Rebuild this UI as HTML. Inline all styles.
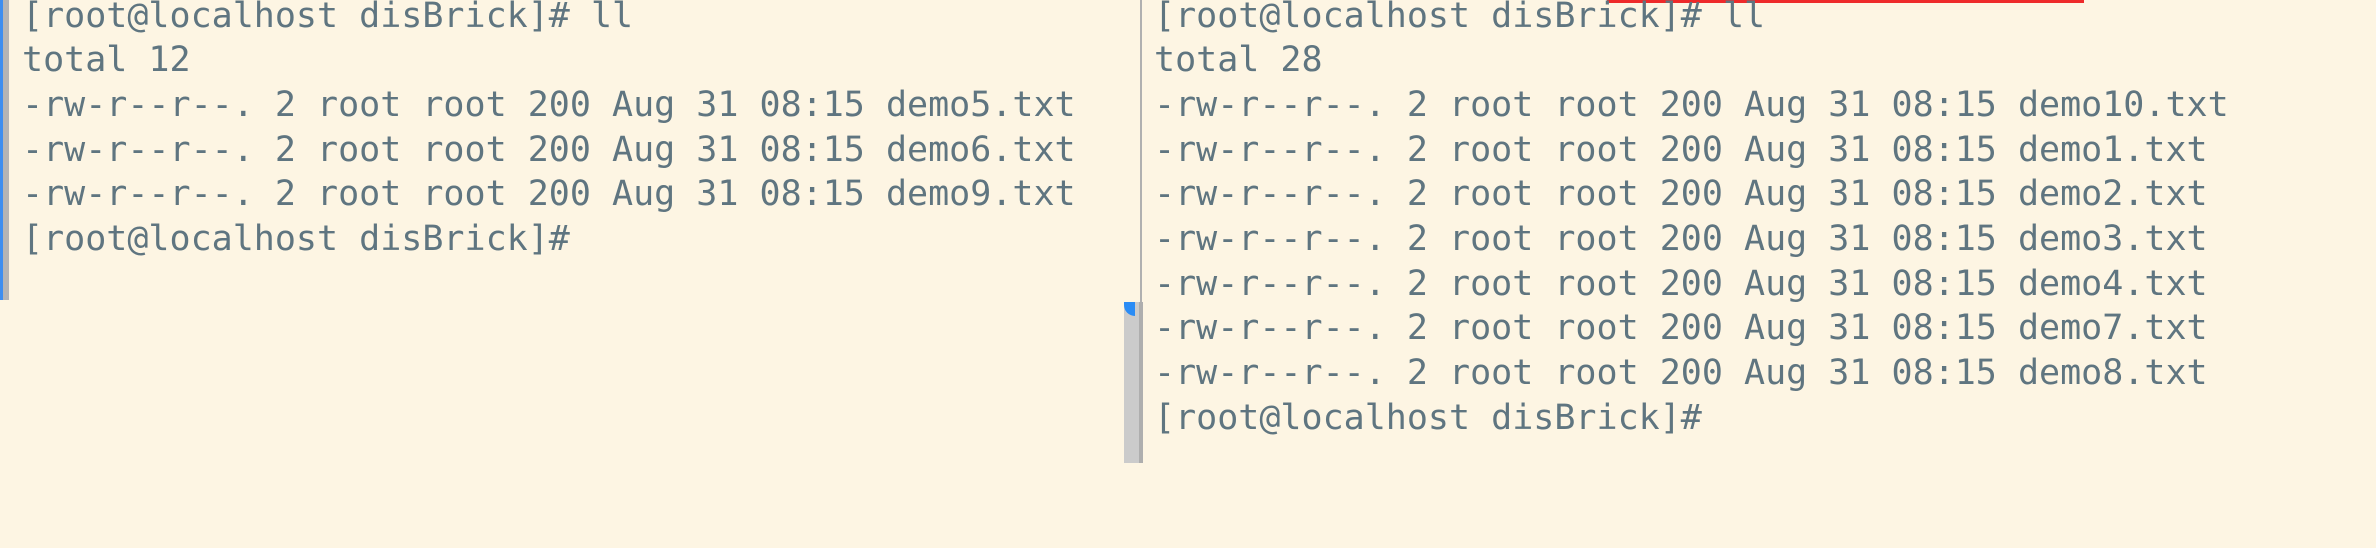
<!DOCTYPE html>
<html><head><meta charset="utf-8"><style>
html,body{margin:0;padding:0}
body{width:2376px;height:548px;background:#fdf5e3;position:relative;overflow:hidden}
.t{position:absolute;font-family:"DejaVu Sans Mono","Liberation Mono",monospace;font-size:35px;line-height:44.7px;color:#5f7580;white-space:pre;margin:0}
</style></head><body>
<div style="position:absolute;left:0;top:0;width:3px;height:300px;background:#3d8ef0"></div>
<div style="position:absolute;left:3px;top:0;width:6px;height:300px;background:#b4b4b4"></div>
<div style="position:absolute;left:1140px;top:0;width:2px;height:302px;background:#b0b0b0"></div>
<div style="position:absolute;left:1124px;top:302px;width:15px;height:161px;background:#cbcbcb"></div>
<div style="position:absolute;left:1139px;top:302px;width:4px;height:161px;background:#aeaeae"></div>
<div style="position:absolute;left:1124px;top:302px;width:11px;height:14px;background:#2a8cf5;border-bottom-left-radius:11px"></div>
<div style="position:absolute;left:1607px;top:0;width:477px;height:3px;background:#ee2a2a"></div>
<pre class="t" style="left:22px;top:-6.5px">[root@localhost disBrick]# ll
total 12
-rw-r--r--. 2 root root 200 Aug 31 08:15 demo5.txt
-rw-r--r--. 2 root root 200 Aug 31 08:15 demo6.txt
-rw-r--r--. 2 root root 200 Aug 31 08:15 demo9.txt
[root@localhost disBrick]#</pre>
<pre class="t" style="left:1154px;top:-6.5px">[root@localhost disBrick]# ll
total 28
-rw-r--r--. 2 root root 200 Aug 31 08:15 demo10.txt
-rw-r--r--. 2 root root 200 Aug 31 08:15 demo1.txt
-rw-r--r--. 2 root root 200 Aug 31 08:15 demo2.txt
-rw-r--r--. 2 root root 200 Aug 31 08:15 demo3.txt
-rw-r--r--. 2 root root 200 Aug 31 08:15 demo4.txt
-rw-r--r--. 2 root root 200 Aug 31 08:15 demo7.txt
-rw-r--r--. 2 root root 200 Aug 31 08:15 demo8.txt
[root@localhost disBrick]#</pre>
</body></html>
